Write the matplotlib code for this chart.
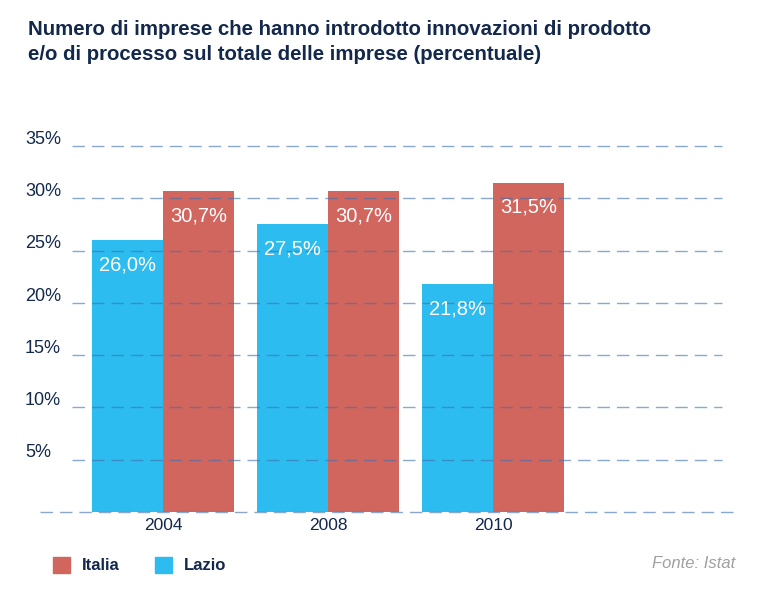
import matplotlib
matplotlib.use("Agg")
import matplotlib.pyplot as plt
import numpy as np

years = ["2004", "2008", "2010"]
lazio = [26.0, 27.5, 21.8]
italia = [30.7, 30.7, 31.5]
yticks = [5, 10, 15, 20, 25, 30, 35]
ytick_labels = ["5%", "10%", "15%", "20%", "25%", "30%", "35%"]
title = "Numero di imprese che hanno introdotto innovazioni di prodotto\ne/o di processo sul totale delle imprese (percentuale)"

RED = "#d1665e"
BLUE = "#2dbcef"
NAVY = "#13284b"
GRID = "#3d6faf"

W, H = 758, 595
fig = plt.figure(figsize=(W / 100, H / 100), dpi=100)
plt.rcParams['font.family'] = ['Liberation Sans', 'DejaVu Sans']

# axes: x pixels 36..735, y pixels 146..512
ax = fig.add_axes([36 / W, (H - 512) / H, (735 - 36) / W, (512 - 146) / H])
ax.set_xlim((36 - 163) / 165, (735 - 163) / 165)
ax.set_ylim(0, 35)
ax.axis('off')

x = np.arange(len(years))
bw = 71 / 165
bl = ax.bar(x - bw / 2, lazio, width=bw, color=BLUE, zorder=1)
bi = ax.bar(x + bw / 2, italia, width=bw, color=RED, zorder=1)

for rect, v in list(zip(bl, lazio)) + list(zip(bi, italia)):
    ax.annotate(f"{v:.1f}".replace(".", ",") + "%",
                (rect.get_x() + rect.get_width() / 2, v),
                xytext=(0, -11), textcoords='offset points',
                ha='center', va='top', color='white', fontsize=14.5, zorder=3)

def px2x(p):
    return (p - 163) / 165

for yv, lab in zip(yticks, ytick_labels):
    ax.hlines(yv, px2x(72), px2x(722), colors=GRID, alpha=0.6, lw=1.0,
              linestyles=(0, (9, 5)), zorder=2, clip_on=False)
    ax.text(px2x(25), yv + 0.65, lab, ha='left', va='center', color=NAVY,
            fontsize=13, zorder=3)
ax.hlines(0, px2x(40), px2x(735), colors=GRID, alpha=0.6, lw=1.0,
          linestyles=(0, (9, 5)), zorder=2, clip_on=False)

for xi, yr in zip(x, years):
    ax.text(xi, -1.3, yr, ha='center', va='center', color=NAVY, fontsize=12.5)

fig.text(28 / W, 1 - 20 / H, title, ha='left', va='top', color=NAVY,
         fontsize=14.7, fontweight='bold', linespacing=1.4)

# legend
from matplotlib.patches import Rectangle
fig.patches.append(Rectangle((53 / W, 1 - 573 / H), 17 / W, 16 / H,
                             transform=fig.transFigure, color=RED))
fig.text(82 / W, 1 - 565 / H, "Italia", ha='left', va='center', color=NAVY,
         fontsize=12, fontweight='bold')
fig.patches.append(Rectangle((155 / W, 1 - 573 / H), 17 / W, 16 / H,
                             transform=fig.transFigure, color=BLUE))
fig.text(184 / W, 1 - 565 / H, "Lazio", ha='left', va='center', color=NAVY,
         fontsize=12, fontweight='bold')
fig.text(735 / W, 1 - 564 / H, "Fonte: Istat", ha='right', va='center',
         color='#a0a0a0', fontsize=12, fontstyle='italic')

fig.savefig("out.png", dpi=100)
